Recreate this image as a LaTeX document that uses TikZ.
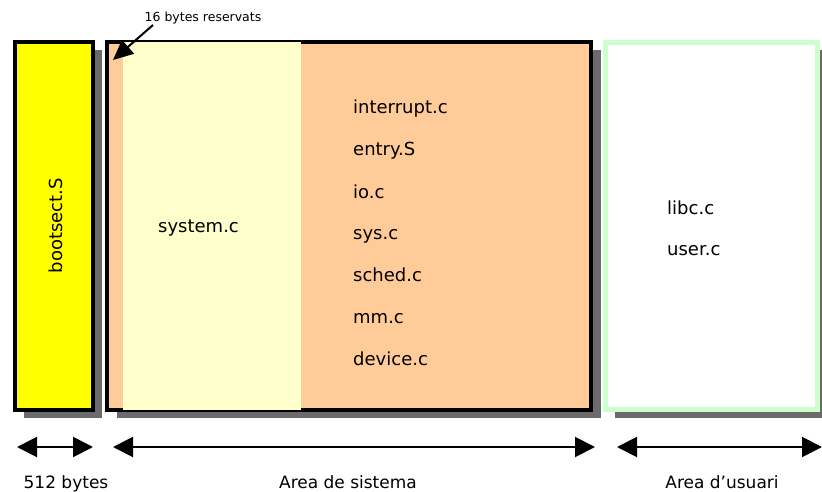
\documentclass[tikz,border=0pt]{standalone}
\usepackage{fontspec}
\setmainfont{DejaVu Sans}
\usetikzlibrary{arrows.meta}
\definecolor{shadowgray}{HTML}{6B6B6B}
\definecolor{bootyellow}{HTML}{FFFF00}
\definecolor{kernelorange}{HTML}{FFCC99}
\definecolor{syscream}{HTML}{FFFFCC}
\definecolor{usergreen}{HTML}{CCFFCC}

\begin{document}
\begin{tikzpicture}[x=1pt,y=-1pt,
  shadowbox/.style={fill=shadowgray,draw=none},
  memblock/.style={draw=black,line width=4pt},
  file/.style={anchor=base west,inner sep=0pt,font=\fontsize{18}{20}\selectfont},
  caption/.style={anchor=base,inner sep=0pt,font=\fontsize{17}{20}\selectfont},
  span/.style={line width=2pt,{Triangle[length=20pt,width=20pt]}-{Triangle[length=20pt,width=20pt]}}]
\useasboundingbox (0,0) rectangle (822,492);

% drop shadows
\fill[shadowbox] (24,50) rectangle (102,418);
\fill[shadowbox] (117,50) rectangle (601,418);
\fill[shadowbox] (615,50) rectangle (822,418);

% boot sector
\draw[memblock,fill=bootyellow] (15,42) rectangle (93,410);
\node[rotate=90,anchor=base,inner sep=0pt,font=\fontsize{18}{20}\selectfont] (boot) at (62,225.5) {bootsect.S};

% system area
\draw[memblock,fill=kernelorange] (107,42) rectangle (591,410);
\fill[syscream] (123,42) rectangle (301,410);
\node[file] (system) at (158,232) {system.c};
\node[file] (interrupt) at (353,114) {interrupt.c};
\node[file] (entry) at (353,156) {entry.S};
\node[file] (io) at (353,198) {io.c};
\node[file] (sys) at (353,239) {sys.c};
\node[file] (sched) at (353,281) {sched.c};
\node[file] (mm) at (353,323) {mm.c};
\node[file] (device) at (353,365) {device.c};

% user area
\draw[draw=usergreen,line width=5pt,fill=white] (605.5,42.5) rectangle (817.5,409.5);
\node[file] (libc) at (667,214) {libc.c};
\node[file] (user) at (667,255) {user.c};

% reserved bytes note
\node[anchor=base,inner sep=0pt,font=\fontsize{12.5}{14}\selectfont] (reserved) at (203,22) {16 bytes reservats};
\coordinate (resfrom) at (153,25);
\coordinate (resto) at (113,60);
\draw[line width=2pt,-{Triangle[length=20pt,width=18pt]}] (resfrom) -- (resto);

% extents
\coordinate (bootL) at (17,447);
\coordinate (bootR) at (93,447);
\coordinate (sysL) at (113,447);
\coordinate (sysR) at (595,447);
\coordinate (userL) at (617,447);
\coordinate (userR) at (822,447);
\draw[span] (bootL) -- (bootR);
\draw[span] (sysL) -- (sysR);
\draw[span] (userL) -- (userR);

\node[caption] (bootcap) at (66,488) {512 bytes};
\node[caption] (syscap) at (348,488) {Area de sistema};
\node[caption] (usercap) at (722,488) {Area d’usuari};
\end{tikzpicture}
\end{document}
